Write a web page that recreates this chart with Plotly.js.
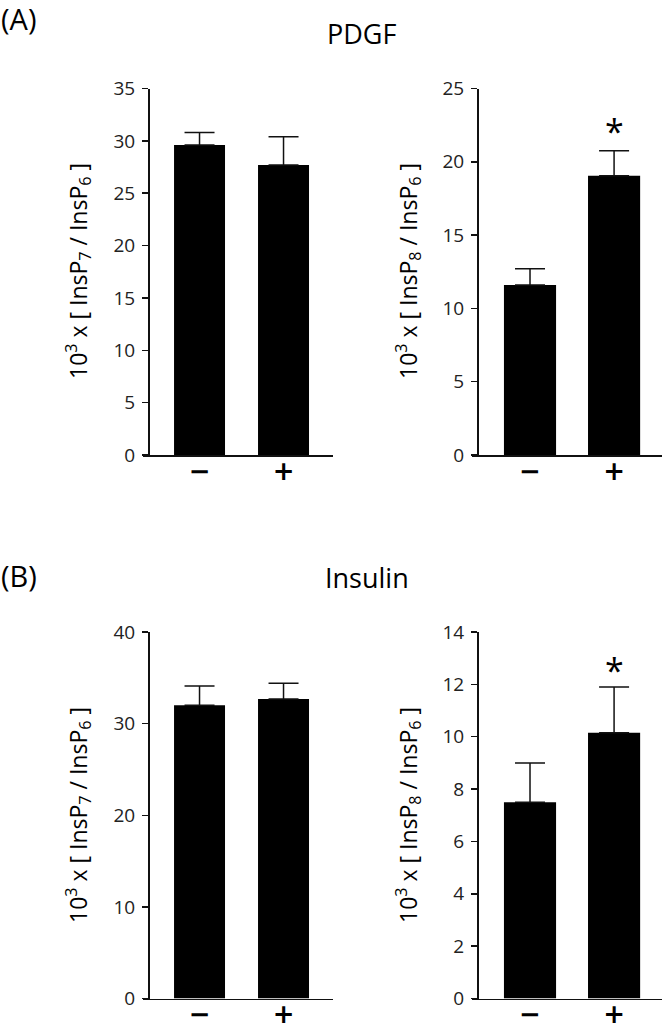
<!DOCTYPE html>
<html><head><meta charset="utf-8">
<script src="https://cdn.plot.ly/plotly-3.0.1.min.js"></script>
<style>html,body{margin:0;padding:0;background:#fff}</style>
</head><body><div id="chart" style="width:666px;height:1027px"></div>
<script>
const categories = ['−', '+'];
const pdgfInsP7 = [29.6, 27.7];
const pdgfInsP7Err = [1.2, 2.7];
const pdgfInsP8 = [11.6, 19.05];
const pdgfInsP8Err = [1.1, 1.7];
const insulinInsP7 = [32.0, 32.7];
const insulinInsP7Err = [2.1, 1.7];
const insulinInsP8 = [7.5, 10.15];
const insulinInsP8Err = [1.5, 1.75];
const panelTitles = ['PDGF', 'Insulin'];
const panelLabels = ['(A)', '(B)'];
const yTitleP7 = '10<sup>3</sup> x [ InsP<sub>7</sub> / InsP<sub>6</sub> ]';
const yTitleP8 = '10<sup>3</sup> x [ InsP<sub>8</sub> / InsP<sub>6</sub> ]';
const sigMark = '*';

const W = 666, H = 1027;
const px = v => v / W, py = v => 1 - v / H;
const FONT = 'Open Sans, sans-serif';
const INK = '#111';

function bar(vals, errs, xa, ya, w) {
  return {
    type: 'bar', x: categories, y: vals, xaxis: xa, yaxis: ya, width: w,
    marker: {color: '#000', line: {width: 0}},
    error_y: {type: 'data', array: errs, arrayminus: [0, 0], symmetric: false,
      color: INK, thickness: 1.5, width: 15},
    showlegend: false, hoverinfo: 'skip'
  };
}
const data = [
  bar(pdgfInsP7, pdgfInsP7Err, 'x', 'y', 0.607),
  bar(pdgfInsP8, pdgfInsP8Err, 'x2', 'y2', 0.62),
  bar(insulinInsP7, insulinInsP7Err, 'x3', 'y3', 0.607),
  bar(insulinInsP8, insulinInsP8Err, 'x4', 'y4', 0.62)
];

function xax(domain, range, anchor) {
  return {domain: domain, range: range, type: 'category', anchor: anchor,
    showline: true, linecolor: INK, linewidth: 1.5, ticks: '', showgrid: false,
    zeroline: false, fixedrange: true, ticklabelstandoff: -8,
    tickfont: {family: 'DejaVu Sans, sans-serif', size: 26, color: '#000', weight: 'bold'}};
}
function yax(domain, range, dtick, pos) {
  return {domain: domain, range: range, dtick: dtick, tick0: 0, anchor: 'free', position: pos,
    showline: true, linecolor: INK, linewidth: 1.5, ticks: 'outside', ticklen: 6,
    tickwidth: 1.5, tickcolor: INK, showgrid: false, zeroline: false, fixedrange: true,
    ticklabelstandoff: 3,
    tickfont: {family: FONT, size: 19, color: '#222'}};
}
const topDom = [py(455), py(88.5)];
const botDom = [py(998.5), py(632)];

const ann = [];
function txt(x, y, text, size, extra) {
  ann.push(Object.assign({xref: 'paper', yref: 'paper', x: x, y: y, text: text,
    showarrow: false, font: {family: FONT, size: size, color: '#000'},
    xanchor: 'center', yanchor: 'middle'}, extra || {}));
}
txt(px(0), py(18), panelLabels[0], 29, {xanchor: 'left', borderpad: 0});
txt(px(361), py(33), panelTitles[0], 27);
txt(px(0), py(575), panelLabels[1], 29, {xanchor: 'left', borderpad: 0});
txt(px(367), py(577), panelTitles[1], 27);
txt(px(78), py(271), yTitleP7, 23, {textangle: -90});
txt(px(408), py(271), yTitleP8, 23, {textangle: -90});
txt(px(78), py(815), yTitleP7, 23, {textangle: -90});
txt(px(408), py(815), yTitleP8, 23, {textangle: -90});
ann.push({xref: 'x2', yref: 'y2', x: categories[1], y: pdgfInsP8[1] + pdgfInsP8Err[1],
  text: sigMark, showarrow: false, yanchor: 'bottom', yshift: -5,
  font: {family: FONT, size: 34, color: '#000'}});
ann.push({xref: 'x4', yref: 'y4', x: categories[1], y: insulinInsP8[1] + insulinInsP8Err[1],
  text: sigMark, showarrow: false, yanchor: 'bottom', yshift: -8,
  font: {family: FONT, size: 34, color: '#000'}});

const layout = {
  width: W, height: H, margin: {l: 0, r: 0, t: 0, b: 0},
  paper_bgcolor: '#fff', plot_bgcolor: 'rgba(0,0,0,0)',
  font: {family: FONT},
  xaxis: xax([px(143), px(333)], [-0.673, 1.589], 'y'),
  yaxis: yax(topDom, [0, 35], 5, px(148)),
  xaxis2: xax([px(472), px(662)], [-0.69, 1.57], 'y2'),
  yaxis2: yax(topDom, [0, 25], 5, px(477)),
  xaxis3: xax([px(143), px(333)], [-0.673, 1.589], 'y3'),
  yaxis3: yax(botDom, [0, 40], 10, px(148)),
  xaxis4: xax([px(472), px(662)], [-0.69, 1.57], 'y4'),
  yaxis4: yax(botDom, [0, 14], 2, px(477)),
  annotations: ann
};
Plotly.newPlot('chart', data, layout, {displayModeBar: false, staticPlot: true});
</script></body></html>
